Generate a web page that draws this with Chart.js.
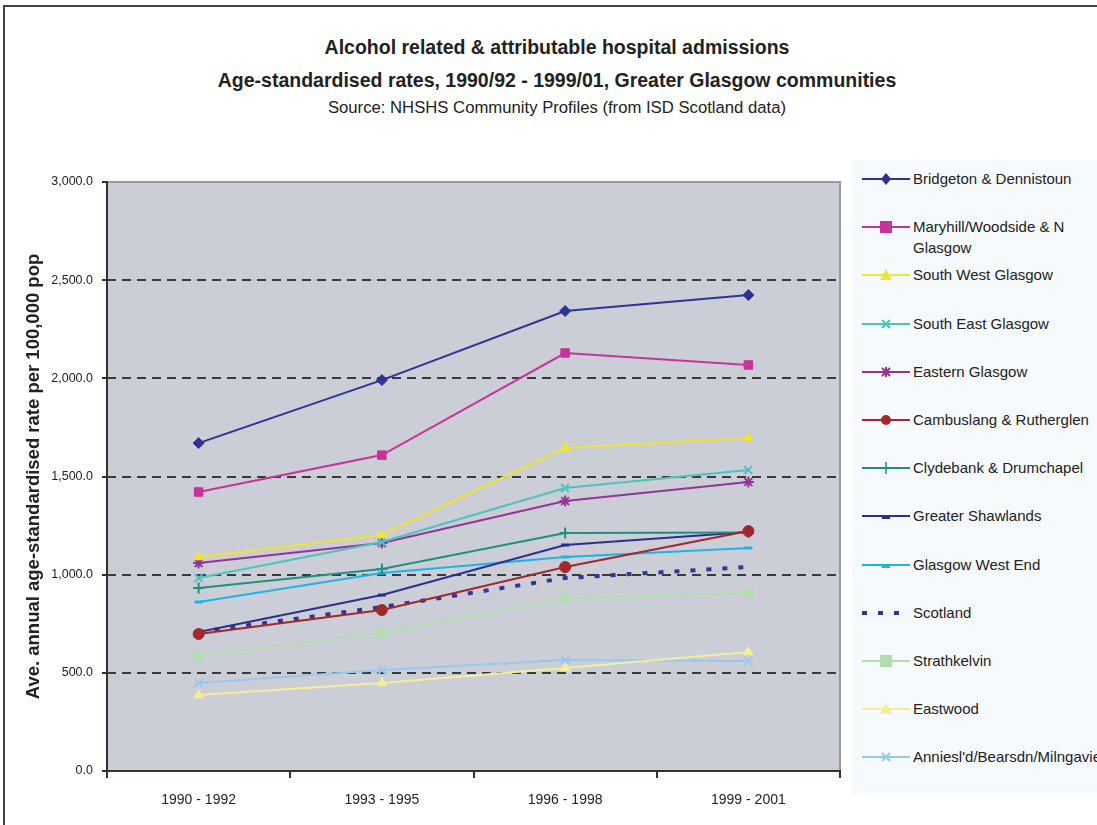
<!DOCTYPE html>
<html>
<head>
<meta charset="utf-8">
<script src="https://cdn.jsdelivr.net/npm/chart.js@4.4.1/dist/chart.umd.min.js"></script>
<style>
  html, body { margin: 0; padding: 0; background: #fff; width: 1097px; height: 825px; overflow: hidden; }
  #frame { position: absolute; left: 3px; top: 5px; right: -10px; bottom: -10px; border-top: 2px solid #444; border-left: 2px solid #444; }
  .ttl { position: absolute; left: 0; width: 1114px; text-align: center; color: #222; font-family: "Liberation Sans", Arial, sans-serif; white-space: nowrap; }
  #t1 { top: 36px; font-size: 19.5px; font-weight: bold; }
  #t2 { top: 69px; font-size: 19.5px; font-weight: bold; }
  #t3 { top: 98px; font-size: 16.7px; }
  #wrap { position: absolute; left: 0; top: 0; width: 1097px; height: 825px; }
  #legend { position: absolute; left: 852px; top: 160px; width: 260px; height: 635px; background: #f6fafd; font-family: "Liberation Sans", Arial, sans-serif; font-size: 15px; color: #222; }
  .item { position: absolute; left: 0; height: 24px; }
  .item svg { position: absolute; left: 10px; top: 0; }
  .item span { position: absolute; left: 61px; top: 0; width: 185px; line-height: 21px; white-space: normal; }
</style>
</head>
<body>
<div id="frame"></div>
<div class="ttl" id="t1">Alcohol related &amp; attributable hospital admissions</div>
<div class="ttl" id="t2">Age-standardised rates, 1990/92 - 1999/01, Greater Glasgow communities</div>
<div class="ttl" id="t3">Source: NHSHS Community Profiles (from ISD Scotland data)</div>
<div id="wrap"><canvas id="chart" width="1097" height="825"></canvas></div>
<div id="legend"></div>
<script>
const periods = ['1990 - 1992', '1993 - 1995', '1996 - 1998', '1999 - 2001'];

const names = [
  'Bridgeton & Dennistoun', 'Maryhill/Woodside & N Glasgow', 'South West Glasgow', 'South East Glasgow',
  'Eastern Glasgow', 'Cambuslang & Rutherglen', 'Clydebank & Drumchapel', 'Greater Shawlands',
  'Glasgow West End', 'Scotland', 'Strathkelvin', 'Eastwood', "Anniesl'd/Bearsdn/Milngavie"
];

const bridgeton   = [1670, 1991, 2343, 2424];
const maryhill    = [1421, 1609, 2129, 2068];
const southWest   = [1090, 1202, 1645, 1696];
const southEast   = [983, 1166, 1441, 1533];
const eastern     = [1059, 1161, 1375, 1472];
const cambuslang  = [698, 820, 1039, 1222];
const clydebank   = [932, 1029, 1212, 1215];
const shawlands   = [708, 896, 1151, 1217];
const westEnd     = [861, 1008, 1090, 1136];
const scotland    = [708, 835, 983, 1039];
const strathkelvin = [586, 703, 881, 906];
const eastwood    = [387, 448, 525, 606];
const anniesland  = [448, 514, 565, 560];

const yTicks = { min: 0, max: 3000, step: 500 };

const colours = ['#2f3393', '#c93398', '#eee634', '#4cc3bb', '#953498', '#a3272d', '#1f8f80',
                 '#2b2f8f', '#19b5e8', '#333399', '#b3ddb0', '#f4ee9a', '#99c8ec'];
const markers = ['rectRot', 'rect', 'triangle', 'crossRot', 'star', 'circle', 'cross',
                 'line', 'line', false, 'rect', 'triangle', 'crossRot'];
const series = [bridgeton, maryhill, southWest, southEast, eastern, cambuslang, clydebank,
                shawlands, westEnd, scotland, strathkelvin, eastwood, anniesland];

const datasets = series.map((vals, i) => {
  const isScot = names[i] === 'Scotland';
  const m = markers[i];
  return {
    label: names[i],
    data: vals,
    borderColor: colours[i],
    backgroundColor: colours[i],
    borderWidth: isScot ? 4 : 2,
    borderDash: isScot ? [5, 11] : [],
    borderCapStyle: 'butt',
    pointStyle: m || 'circle',
    pointRadius: isScot ? 0 : (m === 'rect' ? 6 : m === 'line' ? 4 : 5.5),
    pointBorderWidth: (m === 'crossRot' || m === 'star' || m === 'cross') ? 2 : (m === 'line' ? 3 : 1),
    pointHoverRadius: isScot ? 0 : 6,
    tension: 0,
    fill: false
  };
});

const plotFrame = {
  id: 'plotFrame',
  beforeDraw(chart) {
    const a = chart.chartArea, c = chart.ctx;
    c.save();
    c.fillStyle = '#cbced6';
    c.fillRect(a.left, a.top, a.right - a.left, a.bottom - a.top);
    c.restore();
  },
  afterDraw(chart) {
    const a = chart.chartArea, c = chart.ctx;
    c.save();
    c.strokeStyle = '#9a9a9a';
    c.lineWidth = 2;
    c.beginPath();
    c.moveTo(a.left, a.top); c.lineTo(a.right, a.top); c.lineTo(a.right, a.bottom);
    c.stroke();
    c.strokeStyle = '#333';
    c.beginPath();
    c.moveTo(a.left, a.top - 1); c.lineTo(a.left, a.bottom); c.lineTo(a.right + 1, a.bottom);
    c.stroke();
    c.restore();
  }
};

new Chart(document.getElementById('chart'), {
  type: 'line',
  data: { labels: periods, datasets },
  plugins: [plotFrame],
  options: {
    responsive: false,
    animation: false,
    devicePixelRatio: 1,
    layout: { padding: { left: 0, right: 257, top: 182, bottom: 0 } },
    plugins: { legend: { display: false }, tooltip: { enabled: false } },
    scales: {
      x: {
        offset: true,
        grid: { offset: true, drawOnChartArea: false, color: '#333', lineWidth: 2, tickLength: 7 },
        border: { display: false },
        ticks: { color: '#222', padding: 14, font: { family: '"Liberation Sans", Arial', size: 14 } },
        afterFit(s) { s.height = 54; }
      },
      y: {
        min: yTicks.min, max: yTicks.max,
        grid: {
          color: ctx => (ctx.tick && (ctx.tick.value === 0 || ctx.tick.value === 3000)) ? 'rgba(0,0,0,0)' : '#3a3a3a',
          tickColor: '#333', lineWidth: 2, tickLength: 5, tickBorderDash: []
        },
        border: { display: false, dash: [9, 6] },
        ticks: {
          stepSize: yTicks.step, color: '#222', padding: 9,
          font: { family: '"Liberation Sans", Arial', size: 12.5 },
          callback: v => v.toLocaleString('en-US', { minimumFractionDigits: 1, maximumFractionDigits: 1 })
        },
        title: {
          display: true, text: 'Ave. annual age-standardised rate per 100,000 pop',
          color: '#222', font: { family: '"Liberation Sans", Arial', size: 18.5, weight: 'bold' },
          padding: { top: 23, bottom: 0 }
        },
        afterFit(s) { s.width = 107; }
      }
    }
  }
});

// legend
const leg = document.getElementById('legend');
const rowTops = names.map((n, i) => 8 + i * 48.2);
datasets.forEach((d, i) => {
  const div = document.createElement('div');
  div.className = 'item';
  div.style.top = rowTops[i] + 'px';
  const m = markers[i];
  const c = colours[i];
  let mk = '';
  if (m === 'rectRot') mk = `<polygon points="24,5 29,11 24,17 19,11" fill="${c}"/>`;
  else if (m === 'rect') mk = `<rect x="18" y="5" width="12" height="12" fill="${c}"/>`;
  else if (m === 'triangle') mk = `<polygon points="24,5 30,16 18,16" fill="${c}"/>`;
  else if (m === 'crossRot') mk = `<path d="M20,7 L28,15 M28,7 L20,15" stroke="${c}" stroke-width="2"/>`;
  else if (m === 'star') mk = `<path d="M20,7 L28,15 M28,7 L20,15 M24,6 L24,16" stroke="${c}" stroke-width="2"/>`;
  else if (m === 'circle') mk = `<circle cx="24" cy="11" r="5" fill="${c}"/>`;
  else if (m === 'cross') mk = `<path d="M24,5 L24,17" stroke="${c}" stroke-width="1.5"/>`;
  else if (m === 'line') mk = `<rect x="20" y="11" width="8" height="3" fill="${c}"/>`;
  const line = m ? `<line x1="0" y1="11" x2="48" y2="11" stroke="${c}" stroke-width="2"/>`
                 : `<line x1="0" y1="11" x2="48" y2="11" stroke="${c}" stroke-width="4" stroke-dasharray="5,11"/>`;
  div.innerHTML = `<svg width="50" height="22">${line}${mk}</svg><span>${d.label.replace(/&/g, '&amp;')}</span>`;
  leg.appendChild(div);
});
</script>
</body>
</html>
